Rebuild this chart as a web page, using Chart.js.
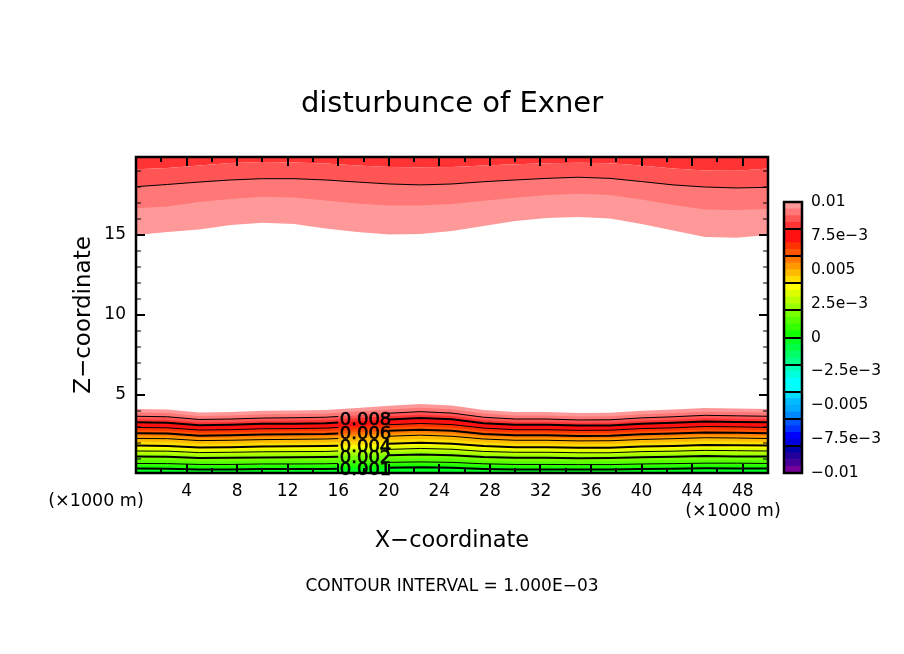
<!DOCTYPE html>
<html>
<head>
<meta charset="utf-8">
<title>disturbunce of Exner</title>
<script src="https://cdn.jsdelivr.net/npm/chart.js@4/dist/chart.umd.min.js"></script>
<style>
  html, body { margin: 0; background: #fff; }
  canvas { position: absolute; }
  #main-chart { left: 0; top: 0; }
  #bar-chart { left: 776px; top: 190px; }
</style>
</head>
<body>
<canvas id="main-chart" width="904" height="654"></canvas>
<canvas id="bar-chart" width="128" height="295"></canvas>
<script>
// x positions (x1000 m) the contours were read at
const fillX = [0, 2.5, 5, 7.5, 10, 12.5, 15, 17.5, 20, 22.5, 25, 27.5, 30, 32.5, 35, 37.5, 40, 42.5, 45, 47.5, 50];
// contour lines get a gap at x=18 where the labels sit
const lineX = [0, 2.5, 5, 7.5, 10, 12.5, 15, 16, 18, 20, 22.5, 25, 27.5, 30, 32.5, 35, 37.5, 40, 42.5, 45, 47.5, 50];

// colour band edges near the ground, named by value in 1e-4
const edge00 = [.40, .39, .35, .35, .37, .38, .38, .42, .45, .48, .45, .38, .35, .35, .34, .34, .37, .39, .42, .41, .40];
const edge05 = [.56, .55, .51, .51, .53, .54, .54, .59, .62, .65, .62, .54, .51, .51, .50, .50, .53, .55, .58, .58, .56];
const edge10 = [.72, .71, .66, .66, .69, .69, .70, .75, .79, .82, .79, .70, .66, .66, .65, .65, .69, .71, .74, .74, .72];
const edge15 = [.94, .93, .86, .87, .90, .90, .91, .97, 1.01, 1.05, 1.02, .91, .87, .87, .85, .86, .90, .93, .96, .95, .94];
const edge20 = [1.15, 1.14, 1.06, 1.08, 1.10, 1.11, 1.12, 1.18, 1.23, 1.28, 1.24, 1.12, 1.08, 1.08, 1.05, 1.06, 1.11, 1.14, 1.18, 1.16, 1.15];
const edge25 = [1.33, 1.32, 1.23, 1.25, 1.28, 1.29, 1.30, 1.36, 1.42, 1.47, 1.43, 1.30, 1.25, 1.25, 1.22, 1.23, 1.29, 1.32, 1.36, 1.34, 1.33];
const edge30 = [1.50, 1.49, 1.40, 1.42, 1.45, 1.46, 1.47, 1.54, 1.60, 1.66, 1.61, 1.47, 1.42, 1.42, 1.39, 1.39, 1.46, 1.49, 1.54, 1.52, 1.50];
const edge35 = [1.67, 1.66, 1.56, 1.58, 1.62, 1.63, 1.64, 1.71, 1.78, 1.84, 1.79, 1.64, 1.58, 1.58, 1.55, 1.55, 1.62, 1.66, 1.71, 1.69, 1.67];
const edge40 = [1.84, 1.82, 1.72, 1.74, 1.78, 1.79, 1.81, 1.88, 1.95, 2.01, 1.96, 1.81, 1.74, 1.74, 1.71, 1.71, 1.78, 1.82, 1.88, 1.86, 1.84];
const edge45 = [2.06, 2.05, 1.94, 1.96, 2.00, 2.01, 2.03, 2.11, 2.19, 2.25, 2.19, 2.03, 1.96, 1.96, 1.92, 1.93, 2.00, 2.05, 2.11, 2.09, 2.06];
const edge50 = [2.28, 2.27, 2.15, 2.17, 2.21, 2.23, 2.25, 2.33, 2.42, 2.49, 2.42, 2.25, 2.17, 2.17, 2.13, 2.14, 2.22, 2.27, 2.33, 2.31, 2.28];
const edge55 = [2.45, 2.43, 2.31, 2.33, 2.37, 2.39, 2.41, 2.50, 2.59, 2.66, 2.59, 2.41, 2.33, 2.33, 2.29, 2.30, 2.38, 2.43, 2.50, 2.48, 2.45];
const edge60 = [2.61, 2.59, 2.46, 2.48, 2.53, 2.55, 2.57, 2.66, 2.76, 2.83, 2.76, 2.57, 2.48, 2.48, 2.44, 2.45, 2.54, 2.59, 2.66, 2.64, 2.61];
const edge65 = [2.79, 2.77, 2.64, 2.66, 2.71, 2.73, 2.75, 2.85, 2.95, 3.03, 2.96, 2.75, 2.66, 2.66, 2.62, 2.63, 2.72, 2.77, 2.85, 2.83, 2.79];
const edge70 = [2.97, 2.95, 2.81, 2.83, 2.89, 2.90, 2.93, 3.03, 3.14, 3.22, 3.15, 2.93, 2.83, 2.83, 2.79, 2.80, 2.90, 2.95, 3.03, 3.01, 2.97];
const edge75 = [3.13, 3.11, 2.96, 2.99, 3.05, 3.06, 3.09, 3.20, 3.31, 3.39, 3.32, 3.09, 2.99, 2.99, 2.94, 2.95, 3.05, 3.11, 3.19, 3.17, 3.13];
const edge80 = [3.29, 3.26, 3.11, 3.14, 3.20, 3.21, 3.24, 3.36, 3.47, 3.56, 3.48, 3.24, 3.14, 3.14, 3.09, 3.09, 3.20, 3.26, 3.35, 3.32, 3.29];
const edge85 = [3.48, 3.45, 3.29, 3.32, 3.38, 3.40, 3.43, 3.55, 3.67, 3.76, 3.68, 3.43, 3.32, 3.32, 3.27, 3.27, 3.39, 3.45, 3.54, 3.51, 3.48];
const edge90 = [3.67, 3.64, 3.47, 3.50, 3.56, 3.58, 3.61, 3.74, 3.86, 3.96, 3.87, 3.61, 3.50, 3.50, 3.44, 3.45, 3.57, 3.64, 3.73, 3.70, 3.67];
const edge95 = [3.90, 3.87, 3.69, 3.72, 3.79, 3.81, 3.84, 3.97, 4.10, 4.20, 4.11, 3.84, 3.72, 3.72, 3.66, 3.67, 3.80, 3.87, 3.96, 3.93, 3.90];
const edge100 = [4.12, 4.09, 3.91, 3.94, 4.01, 4.03, 4.06, 4.19, 4.33, 4.44, 4.34, 4.06, 3.94, 3.94, 3.88, 3.89, 4.02, 4.09, 4.19, 4.16, 4.12];
// same values coming back down near the model top
const top100 = [15.00, 15.19, 15.34, 15.63, 15.77, 15.69, 15.41, 15.18, 15.03, 15.06, 15.25, 15.56, 15.88, 16.06, 16.13, 16.03, 15.69, 15.28, 14.88, 14.83, 15.00];
const top95 = [16.67, 16.78, 17.06, 17.25, 17.39, 17.34, 17.16, 16.97, 16.84, 16.84, 16.94, 17.14, 17.33, 17.50, 17.58, 17.50, 17.22, 16.88, 16.59, 16.56, 16.63];
const top90 = [18.02, 18.16, 18.31, 18.44, 18.52, 18.52, 18.44, 18.31, 18.19, 18.13, 18.19, 18.33, 18.44, 18.54, 18.61, 18.54, 18.34, 18.13, 18.00, 17.94, 17.98];
const top85 = [19.11, 19.19, 19.34, 19.50, 19.56, 19.53, 19.47, 19.34, 19.25, 19.23, 19.25, 19.34, 19.42, 19.48, 19.52, 19.48, 19.34, 19.16, 19.03, 19.02, 19.16];

// black contour lines, interval 1e-3
const line000 = [.40, .39, .35, .35, .37, .38, .38, .39, null, .45, .48, .45, .38, .35, .35, .34, .34, .37, .39, .42, .41, .40];
const line001 = [.72, .71, .66, .66, .69, .69, .70, .72, null, .79, .82, .79, .70, .66, .66, .65, .65, .69, .71, .74, .74, .72];
const line002 = [1.15, 1.14, 1.06, 1.08, 1.10, 1.11, 1.12, 1.14, null, 1.23, 1.28, 1.24, 1.12, 1.08, 1.08, 1.05, 1.06, 1.11, 1.14, 1.18, 1.16, 1.15];
const line003 = [1.50, 1.49, 1.40, 1.42, 1.45, 1.46, 1.47, 1.50, null, 1.60, 1.66, 1.61, 1.47, 1.42, 1.42, 1.39, 1.39, 1.46, 1.49, 1.54, 1.52, 1.50];
const line004 = [1.84, 1.82, 1.72, 1.74, 1.78, 1.79, 1.81, 1.83, null, 1.95, 2.01, 1.96, 1.81, 1.74, 1.74, 1.71, 1.71, 1.78, 1.82, 1.88, 1.86, 1.84];
const line005 = [2.28, 2.27, 2.15, 2.17, 2.21, 2.23, 2.25, 2.28, null, 2.42, 2.49, 2.42, 2.25, 2.17, 2.17, 2.13, 2.14, 2.22, 2.27, 2.33, 2.31, 2.28];
const line006 = [2.61, 2.59, 2.46, 2.48, 2.53, 2.55, 2.57, 2.60, null, 2.76, 2.83, 2.76, 2.57, 2.48, 2.48, 2.44, 2.45, 2.54, 2.59, 2.66, 2.64, 2.61];
const line007 = [2.97, 2.95, 2.81, 2.83, 2.89, 2.90, 2.93, 2.97, null, 3.14, 3.22, 3.15, 2.93, 2.83, 2.83, 2.79, 2.80, 2.90, 2.95, 3.03, 3.01, 2.97];
const line008 = [3.29, 3.26, 3.11, 3.14, 3.20, 3.21, 3.24, 3.28, null, 3.47, 3.56, 3.48, 3.24, 3.14, 3.14, 3.09, 3.09, 3.20, 3.26, 3.35, 3.32, 3.29];
const line009 = [3.67, 3.64, 3.47, 3.50, 3.56, 3.58, 3.61, 3.66, null, 3.86, 3.96, 3.87, 3.61, 3.50, 3.50, 3.44, 3.45, 3.57, 3.64, 3.73, 3.70, 3.67];

// inline contour labels
const contourLabels = ['0.008', '0.006', '0.004', '0.002', '0.001'];
const labelX = [18, 18, 18, 18, 18];
const labelZ = [3.4, 2.55, 1.75, 1.05, 0.3];

// axes
const xTicks = [2, 4, 6, 8, 10, 12, 14, 16, 18, 20, 22, 24, 26, 28, 30, 32, 34, 36, 38, 40, 42, 44, 46, 48];
const xLabelled = [4, 8, 12, 16, 20, 24, 28, 32, 36, 40, 44, 48];
const zTicks = [1, 2, 3, 4, 5, 6, 7, 8, 9, 10, 11, 12, 13, 14, 15, 16, 17, 18, 19];
const zLabelled = [5, 10, 15];

// colour bar: 40 levels, frame lines every 2e-3, labels every 2.5e-3
const barLevels = [-0.01, -0.0095, -0.009, -0.0085, -0.008, -0.0075, -0.007, -0.0065, -0.006, -0.0055,
  -0.005, -0.0045, -0.004, -0.0035, -0.003, -0.0025, -0.002, -0.0015, -0.001, -0.0005, 0,
  0.0005, 0.001, 0.0015, 0.002, 0.0025, 0.003, 0.0035, 0.004, 0.0045,
  0.005, 0.0055, 0.006, 0.0065, 0.007, 0.0075, 0.008, 0.0085, 0.009, 0.0095, 0.01];
const barFrames = [-0.008, -0.006, -0.004, -0.002, 0, 0.002, 0.004, 0.006, 0.008];
const barTicks = [-0.01, -0.0075, -0.005, -0.0025, 0, 0.0025, 0.005, 0.0075, 0.01];
const barTickLabels = ['\u22120.01', '\u22127.5e\u22123', '\u22120.005', '\u22122.5e\u22123', '0', '2.5e\u22123', '0.005', '7.5e\u22123', '0.01'];
// palette, bottom of the bar upward
const barColors = ['#770099', '#440099', '#220099', '#0000aa', '#0000dd', '#0000ff', '#0033ff', '#0055ff',
  '#0088ff', '#00aaff', '#00bbff', '#00ddff', '#00ffff', '#00ffff', '#00ffdd', '#00ffbb',
  '#00ff88', '#00ff66', '#00ff44', '#00ff22', '#11ff00', '#33ff00', '#55ff00', '#77ff00',
  '#99ff00', '#bbff00', '#ddff00', '#ffff00', '#ffdd00', '#ffbb00', '#ff9900', '#ff7700',
  '#ff5500', '#ff3300', '#ff1111', '#ff1111', '#ff3333', '#ff5555', '#ff7777', '#ff9999'];

const FONT = "'DejaVu Sans', sans-serif";
const zMin = 0.125, zMax = 19.875;

const lowEdges = [edge00, edge05, edge10, edge15, edge20, edge25, edge30, edge35, edge40, edge45, edge50,
  edge55, edge60, edge65, edge70, edge75, edge80, edge85, edge90, edge95, edge100];
const lineList = [line000, line001, line002, line003, line004, line005, line006, line007, line008, line009];

function toPoints(xs, zs) {
  return zs.map((z, i) => ({ x: xs[i], y: z }));
}

function fillSet(zs, color, target) {
  return { data: toPoints(fillX, zs), borderWidth: 0, pointRadius: 0, tension: 0, backgroundColor: color, fill: target || 'start' };
}

function lineSet(xs, zs, width) {
  return { data: toPoints(xs, zs), borderColor: '#000', borderWidth: width, pointRadius: 0, tension: 0, fill: false, spanGaps: false };
}

// datasets paint last to first, so lines go first and the fills run from low to high:
// every edge floods down to the axis in the colour just below it
const datasets = [];
lineList.forEach((l, i) => datasets.push(lineSet(lineX, l, i % 2 ? 1 : 2)));
datasets.push(lineSet(fillX, top90, 1));
lowEdges.forEach((e, i) => datasets.push(fillSet(e, barColors[19 + i])));
datasets.push(fillSet(top100, '#ffffff'));
datasets.push(fillSet(top95, '#ff9999'));
datasets.push(fillSet(top90, '#ff7777'));
datasets.push(fillSet(top85, '#ff5555'));
datasets.push(fillSet(top85, '#ff3333', 'end'));

// ticks point inward on all four sides, so they cannot come from the grid options
const frameTicks = {
  id: 'frameTicks',
  afterDatasetsDraw(chart) {
    const { ctx, chartArea: a, scales: { x, y } } = chart;
    ctx.save();
    ctx.strokeStyle = '#000';
    ctx.lineWidth = 2;
    xTicks.forEach(v => {
      const px = Math.round(x.getPixelForValue(v));
      const len = xLabelled.includes(v) ? 9 : 5;
      ctx.beginPath();
      ctx.moveTo(px, a.bottom); ctx.lineTo(px, a.bottom - len);
      ctx.moveTo(px, a.top); ctx.lineTo(px, a.top + len);
      ctx.stroke();
    });
    zTicks.forEach(v => {
      const py = Math.round(y.getPixelForValue(v));
      const len = zLabelled.includes(v) ? 9 : 5;
      ctx.lineWidth = zLabelled.includes(v) ? 2 : 1;
      ctx.beginPath();
      ctx.moveTo(a.left, py); ctx.lineTo(a.left + len, py);
      ctx.moveTo(a.right, py); ctx.lineTo(a.right - len, py);
      ctx.stroke();
    });
    ctx.lineWidth = 2.5;
    ctx.strokeRect(a.left, a.top, a.right - a.left, a.bottom - a.top);

    // contour labels sit in the gaps of the lines
    ctx.fillStyle = '#000';
    ctx.font = '18px ' + FONT;
    ctx.textAlign = 'center';
    ctx.textBaseline = 'middle';
    ctx.lineWidth = 0.7;
    contourLabels.forEach((t, i) => {
      const px = x.getPixelForValue(labelX[i]) + 2;
      const py = y.getPixelForValue(labelZ[i]);
      ctx.fillText(t, px, py);
      ctx.strokeText(t, px, py);
    });

    ctx.font = '17.5px ' + FONT;
    ctx.fillText('(\u00d71000 m)', 96, 501);
    ctx.fillText('(\u00d71000 m)', 733, 511);
    ctx.font = '17px ' + FONT;
    ctx.fillText('CONTOUR INTERVAL = 1.000E\u221203', 452, 587);
    ctx.restore();
  }
};

new Chart(document.getElementById('main-chart'), {
  type: 'line',
  data: { datasets },
  plugins: [frameTicks],
  options: {
    responsive: false,
    animation: false,
    devicePixelRatio: 1,
    layout: { padding: { left: 0, right: 0, top: 0, bottom: 98 } },
    plugins: {
      legend: { display: false },
      tooltip: { enabled: false },
      title: {
        display: true,
        text: 'disturbunce of Exner',
        color: '#000',
        font: { family: FONT, size: 29, weight: 'normal', lineHeight: 1.2 },
        padding: { top: 87, bottom: 35.2 }
      }
    },
    scales: {
      x: {
        type: 'linear',
        min: 0,
        max: 50,
        afterBuildTicks: s => { s.ticks = xLabelled.map(v => ({ value: v })); },
        afterFit: s => { s.height = 83; s.paddingLeft = 0; s.paddingRight = 0; },
        grid: { display: false, drawTicks: false },
        border: { display: false },
        ticks: { color: '#000', font: { family: FONT, size: 17 }, padding: 8, autoSkip: false, maxRotation: 0 },
        title: { display: true, text: 'X\u2212coordinate', color: '#000', font: { family: FONT, size: 22.5 }, padding: { top: 0, bottom: 1 } }
      },
      y: {
        type: 'linear',
        min: zMin,
        max: zMax,
        afterBuildTicks: s => { s.ticks = zLabelled.map(v => ({ value: v })); },
        afterFit: s => { s.width = 136; s.paddingTop = 0; s.paddingBottom = 0; },
        grid: { display: false, drawTicks: false },
        border: { display: false },
        ticks: { color: '#000', font: { family: FONT, size: 17 }, padding: 10, autoSkip: false },
        title: { display: true, text: 'Z\u2212coordinate', color: '#000', font: { family: FONT, size: 23 }, padding: { top: 70, bottom: 0 } }
      },
      // empty axis on the right, it balances the left one so the title centres on the page
      spacer: {
        position: 'right',
        afterFit: s => { s.width = 136; s.paddingTop = 0; s.paddingBottom = 0; },
        grid: { display: false, drawTicks: false },
        border: { display: false },
        ticks: { display: false }
      }
    }
  }
});

const barFrame = {
  id: 'barFrame',
  afterDraw(chart) {
    const { ctx, chartArea: a, scales: { y } } = chart;
    ctx.save();
    ctx.strokeStyle = '#000';
    ctx.lineWidth = 2;
    barFrames.forEach(v => {
      const py = Math.round(y.getPixelForValue(v));
      ctx.beginPath();
      ctx.moveTo(a.left, py);
      ctx.lineTo(a.right, py);
      ctx.stroke();
    });
    ctx.lineWidth = 2.5;
    ctx.strokeRect(a.left, a.top, a.right - a.left, a.bottom - a.top);
    ctx.restore();
  }
};

new Chart(document.getElementById('bar-chart'), {
  type: 'bar',
  data: {
    labels: [''],
    datasets: barColors.map((c, i) => ({
      data: [[barLevels[i], barLevels[i + 1]]],
      backgroundColor: c,
      borderWidth: 0,
      barPercentage: 1,
      categoryPercentage: 1,
      grouped: false
    }))
  },
  plugins: [barFrame],
  options: {
    responsive: false,
    animation: false,
    devicePixelRatio: 1,
    layout: { padding: { left: 8, right: 0, top: 12, bottom: 12 } },
    plugins: { legend: { display: false }, tooltip: { enabled: false } },
    scales: {
      x: { display: false, grid: { display: false } },
      y: {
        position: 'right',
        min: -0.01,
        max: 0.01,
        afterBuildTicks: s => { s.ticks = barTicks.map(v => ({ value: v })); },
        afterFit: s => { s.width = 102; s.paddingTop = 0; s.paddingBottom = 0; },
        grid: { display: false, drawTicks: false },
        border: { display: false },
        ticks: {
          color: '#000',
          font: { family: FONT, size: 15.5 },
          padding: 9,
          autoSkip: false,
          callback: (v, i) => barTickLabels[i]
        }
      }
    }
  }
});
</script>
</body>
</html>
